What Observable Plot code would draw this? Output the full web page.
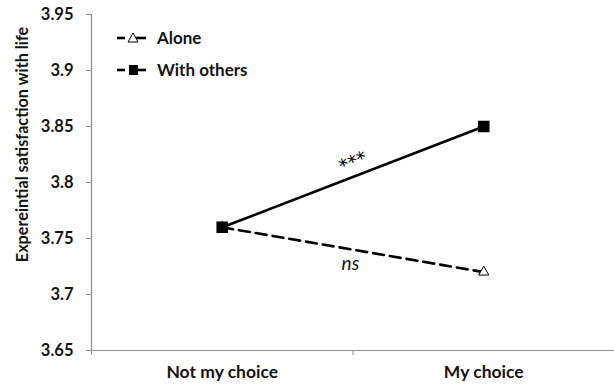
<!DOCTYPE html>
<html>
<head>
<meta charset="utf-8">
<script src="https://cdn.jsdelivr.net/npm/d3@7"></script>
<script src="https://cdn.jsdelivr.net/npm/@observablehq/plot@0.6"></script>
<style>
  html, body { margin: 0; padding: 0; background: #fff; }
  #wrap { position: relative; width: 614px; height: 384px; font-family: Lato, "Open Sans", sans-serif; }
  #legend { position: absolute; left: 0; top: 0; }
</style>
</head>
<body>
<div id="wrap"></div>
<script>
// ---- data ----
const categories = ["Not my choice", "My choice"];
const alone = [3.76, 3.72];
const withOthers = [3.76, 3.85];
const yTicks = [3.65, 3.7, 3.75, 3.8, 3.85, 3.9, 3.95];
const seriesNames = ["Alone", "With others"];
const annotations = [
  {label: "***", x: 0.5, y: 3.818, italic: false},
  {label: "ns", x: 0.49, y: 3.727, italic: true}
];

const rows = [];
categories.forEach((c, i) => {
  rows.push({series: "Alone", xi: i, value: alone[i]});
  rows.push({series: "With others", xi: i, value: withOthers[i]});
});
const aloneRows = rows.filter(d => d.series === "Alone");
const othersRows = rows.filter(d => d.series === "With others");

const textColor = "#141414";
const axisColor = "#8c8c8c";

const chart = Plot.plot({
  width: 614,
  height: 384,
  marginLeft: 91,
  marginRight: 0,
  marginTop: 14,
  marginBottom: 34,
  style: {fontFamily: "Lato, 'Open Sans', sans-serif", fontSize: "15px", fontWeight: "bold", color: textColor, background: "#fff"},
  x: {type: "linear", domain: [-0.5, 1.5], axis: null},
  y: {domain: [3.65, 3.95], axis: null},
  marks: [
    Plot.ruleY([3.65], {stroke: axisColor, strokeWidth: 1.2}),
    Plot.ruleX([-0.5], {stroke: axisColor, strokeWidth: 1.2}),
    Plot.axisY(yTicks, {anchor: "left", tickSize: 5, tickPadding: 13, stroke: axisColor, fill: textColor, fontSize: 16.5, fontWeight: "bold", tickFormat: d => String(+d.toFixed(2)), label: null}),
    Plot.axisX([-0.5, 0.5], {anchor: "bottom", tickSize: 5, stroke: axisColor, tickFormat: () => "", label: null}),
    Plot.axisX([0, 1], {anchor: "bottom", tickSize: 0, tickPadding: 15, fill: textColor, fontSize: 17.5, fontWeight: "bold", tickFormat: i => categories[i], label: null}),
    Plot.text(["Expereintial satisfaction with life"], {frameAnchor: "left", textAnchor: "middle", dx: -69, dy: -38, rotate: -90, fill: textColor, fontSize: 16.2, fontWeight: "bold"}),
    Plot.line(aloneRows, {x: "xi", y: "value", stroke: "#000", strokeWidth: 2.6, strokeDasharray: "11,6"}),
    Plot.line(othersRows, {x: "xi", y: "value", stroke: "#000", strokeWidth: 2.6}),
    Plot.dot(aloneRows, {x: "xi", y: "value", symbol: "triangle", r: 3.8, fill: "#fff", stroke: "#000", strokeWidth: 1}),
    Plot.dot(othersRows, {x: "xi", y: "value", symbol: "square", r: 5.7, fill: "#000", stroke: "#000"}),
    Plot.text(annotations.filter(d => !d.italic), {x: "x", y: "y", text: "label", rotate: -21, fontSize: 19, fontWeight: "normal", fill: "#000", fontFamily: "'DejaVu Sans', sans-serif"}),
    Plot.text(annotations.filter(d => d.italic), {x: "x", y: "y", text: "label", fontSize: 19, fontWeight: "normal", fontStyle: "italic", fill: textColor})
  ]
});

const wrap = document.getElementById("wrap");
wrap.appendChild(chart);

// legend overlay
const ns = "http://www.w3.org/2000/svg";
const leg = document.createElementNS(ns, "svg");
leg.setAttribute("id", "legend");
leg.setAttribute("width", 260);
leg.setAttribute("height", 90);
const items = [
  {name: seriesNames[0], y: 38, symbol: "triangle"},
  {name: seriesNames[1], y: 70, symbol: "square"}
];
items.forEach(it => {
  const l1 = document.createElementNS(ns, "line");
  l1.setAttribute("x1", 117); l1.setAttribute("x2", 125);
  l1.setAttribute("y1", it.y); l1.setAttribute("y2", it.y);
  l1.setAttribute("stroke", "#000"); l1.setAttribute("stroke-width", 2.6);
  leg.appendChild(l1);
  const l2 = document.createElementNS(ns, "line");
  l2.setAttribute("x1", 136); l2.setAttribute("x2", 146);
  l2.setAttribute("y1", it.y); l2.setAttribute("y2", it.y);
  l2.setAttribute("stroke", "#000"); l2.setAttribute("stroke-width", 2.6);
  leg.appendChild(l2);
  if (it.symbol === "triangle") {
    const p = document.createElementNS(ns, "path");
    p.setAttribute("d", `M133,${it.y - 5} L138,${it.y + 4} L128,${it.y + 4} Z`);
    p.setAttribute("fill", "#fff"); p.setAttribute("stroke", "#000"); p.setAttribute("stroke-width", 1);
    leg.appendChild(p);
  } else {
    const r = document.createElementNS(ns, "rect");
    r.setAttribute("x", 129); r.setAttribute("y", it.y - 5);
    r.setAttribute("width", 9); r.setAttribute("height", 10);
    r.setAttribute("fill", "#000");
    leg.appendChild(r);
  }
  const t = document.createElementNS(ns, "text");
  t.setAttribute("x", 157); t.setAttribute("y", it.y);
  t.setAttribute("dy", "0.35em");
  t.setAttribute("font-family", "Lato, 'Open Sans', sans-serif");
  t.setAttribute("font-size", 17); t.setAttribute("font-weight", "bold");
  t.setAttribute("fill", textColor);
  t.textContent = it.name;
  leg.appendChild(t);
});
wrap.appendChild(leg);
</script>
</body>
</html>
